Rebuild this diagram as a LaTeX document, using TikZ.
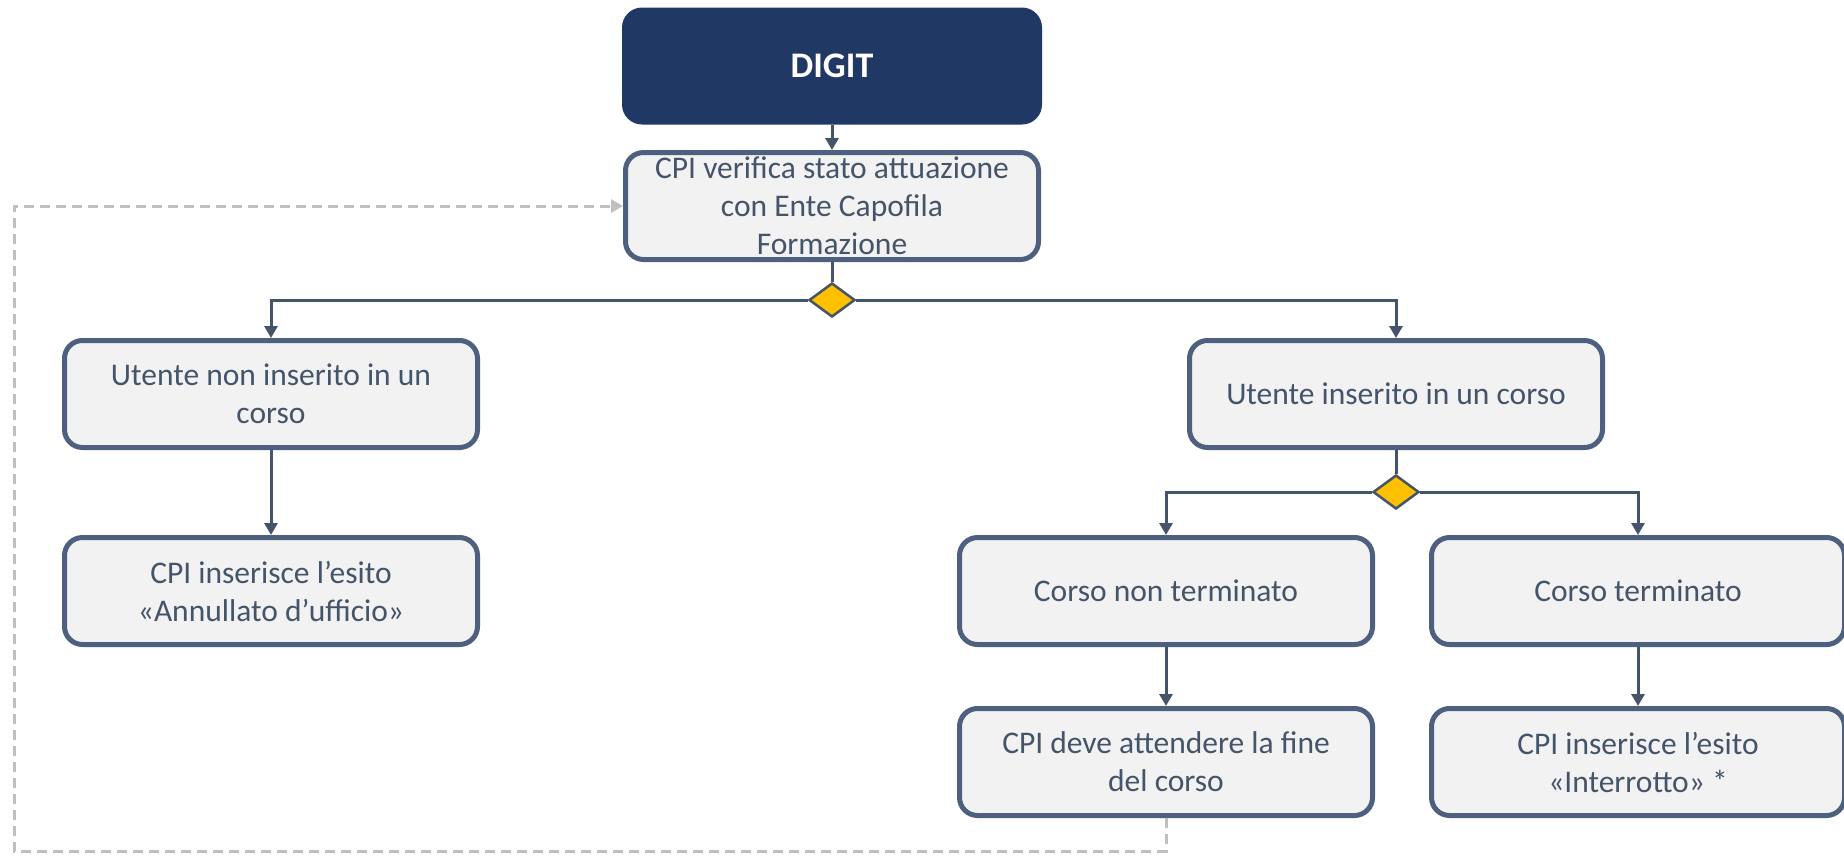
\documentclass[tikz,border=0pt]{standalone}
\usepackage{fontspec}
\setmainfont{Carlito}
\usetikzlibrary{arrows.meta,shapes.geometric}

\definecolor{navy}{HTML}{203864}
\definecolor{slate}{HTML}{4E6080}
\definecolor{ink}{HTML}{44546A}
\definecolor{boxgray}{HTML}{F2F2F2}
\definecolor{gold}{HTML}{FFC000}
\definecolor{dashgray}{HTML}{BFBFBF}

\tikzset{
  stepbox/.style={draw=slate, line width=5pt, fill=boxgray, rounded corners=18pt,
    minimum width=413pt, minimum height=107pt, inner sep=0pt, align=center,
    text=ink, font=\fontsize{31.5}{38}\selectfont},
  headbox/.style={fill=navy, rounded corners=20pt, minimum width=420pt,
    minimum height=117pt, text=white, font=\fontsize{36}{40}\selectfont\bfseries},
  choice/.style={diamond, draw=ink, line width=2.5pt, fill=gold, inner sep=0pt,
    minimum width=46pt, minimum height=34pt},
  link/.style={draw=ink, line width=3pt},
  flow/.style={link, -{Triangle[width=13pt,length=12pt]}},
  back/.style={draw=dashgray, line width=3pt, dash pattern=on 10pt off 6pt,
    -{Triangle[width=13pt,length=12pt]}}
}

\begin{document}
\begin{tikzpicture}[x=1pt, y=-1pt]

  \useasboundingbox (0,0) rectangle (1844,855);

  % --- top of the flow ---
  \node[headbox] (digit) at (832,66) {DIGIT};
  \node[stepbox] (verifica) at (832,206) {CPI verifica stato attuazione\\con Ente Capofila\\Formazione};
  \node[choice] (dec1) at (832,300) {};

  % --- left branch ---
  \node[stepbox] (nonins) at (271,394) {Utente non inserito in un\\corso};
  \node[stepbox] (annullato) at (271,591) {CPI inserisce l’esito\\«Annullato d’ufficio»};

  % --- right branch ---
  \node[stepbox] (ins) at (1396,394) {Utente inserito in un corso};
  \node[choice] (dec2) at (1396,492) {};
  \node[stepbox] (nonterm) at (1166,591) {Corso non terminato};
  \node[stepbox] (term) at (1638,591) {Corso terminato};
  \node[stepbox] (attesa) at (1166,762) {CPI deve attendere la fine\\del corso};
  \node[stepbox] (interrotto) at (1638,762) {CPI inserisce l’esito\\«Interrotto» *};

  % --- connectors ---
  \draw[flow] (digit.south) -- (verifica.north);
  \draw[link] (verifica.south) -- (dec1.north);
  \draw[flow] (dec1.west) -| (nonins.north);
  \draw[flow] (dec1.east) -| (ins.north);
  \draw[flow] (nonins.south) -- (annullato.north);
  \draw[link] (ins.south) -- (dec2.north);
  \draw[flow] (dec2.west) -| (nonterm.north);
  \draw[flow] (dec2.east) -| (term.north);
  \draw[flow] (nonterm.south) -- (attesa.north);
  \draw[flow] (term.south) -- (interrotto.north);

  % --- loop back to the check ---
  \coordinate (corner) at (14,851);
  \draw[back] (attesa.south) |- (corner) |- (verifica.west);

\end{tikzpicture}
\end{document}
